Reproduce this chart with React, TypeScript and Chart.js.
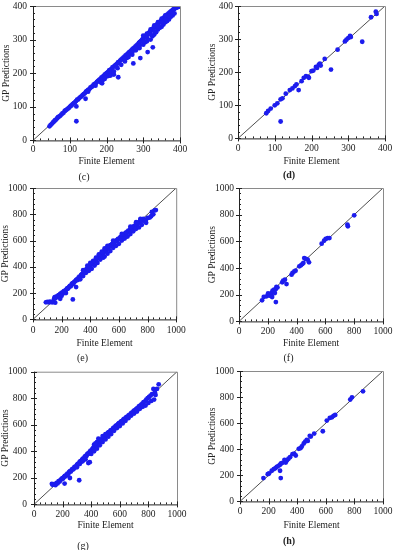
import React, { useEffect, useRef } from "react";
import { Chart, registerables } from "chart.js";
Chart.register(...registerables);

const FONT = "'Liberation Serif', 'Times New Roman', serif";
const FS = 9.5;
const LH = FS * 1.2;

// ---------- data (Finite Element, GP Predictions) ----------
const pointsC: [number, number][] = [
  [45, 42], [48, 46], [52, 50], [55, 54], [58, 57], [60, 60], [63, 62], [66, 66], [68, 69], [71, 71],
  [74, 73], [77, 77], [80, 80], [83, 82], [86, 87], [88, 89], [91, 91], [94, 94], [97, 96], [100, 100],
  [103, 103], [105, 104], [108, 108], [111, 111], [114, 113], [117, 117], [120, 121], [123, 122], [126, 126], [129, 129],
  [132, 131], [135, 135], [138, 138], [141, 140], [144, 145], [147, 147], [150, 150], [153, 152], [156, 157], [159, 159],
  [162, 161], [165, 166], [168, 168], [171, 170], [174, 174], [177, 177], [180, 180], [183, 182], [186, 187], [189, 189],
  [192, 191], [195, 196], [198, 198], [201, 201], [204, 203], [207, 208], [210, 210], [213, 212], [216, 217], [219, 219],
  [222, 222], [225, 225], [228, 227], [231, 232], [234, 234], [237, 237], [240, 240], [243, 243], [246, 246], [249, 249],
  [252, 253], [255, 255], [258, 258], [261, 262], [264, 264], [267, 267], [270, 271], [273, 274], [276, 276], [279, 280],
  [282, 283], [285, 286], [288, 290], [291, 293], [294, 296], [297, 300], [300, 304], [303, 307], [306, 310], [309, 313],
  [312, 316], [315, 320], [318, 323], [321, 327], [324, 330], [327, 333], [330, 337], [333, 340], [336, 343], [339, 347],
  [342, 350], [345, 353], [348, 356], [351, 360], [354, 363], [357, 366], [360, 370], [363, 372], [366, 375], [369, 378],
  [372, 381], [375, 384], [378, 386], [381, 389], [384, 391], [387, 393], [390, 395], [393, 396], [396, 398], [398, 399],
  [300, 312], [310, 318], [320, 330], [330, 342], [340, 352], [350, 362], [360, 372],
  [150, 145], [170, 163], [185, 172], [190, 180], [195, 183], [200, 190], [205, 192], [210, 197], [215, 200], [220, 205],
  [230, 215], [240, 225], [250, 235], [255, 245], [260, 248], [270, 255], [280, 268], [290, 275], [300, 285], [305, 292],
  [310, 295], [320, 300], [325, 310], [330, 315], [335, 322], [340, 330], [345, 335], [350, 338], [355, 345], [360, 352],
  [365, 355], [370, 360], [375, 368], [380, 372], [385, 378],
  [250, 242], [260, 255], [270, 262], [280, 275], [290, 283], [300, 295], [310, 305], [320, 315], [330, 325], [340, 340],
  [350, 350], [360, 360], [370, 370],
  [118, 57], [118, 101], [143, 124], [188, 170], [211, 193], [220, 196], [232, 188], [273, 229], [292, 245], [312, 263], [326, 277],
];

const pointsD: [number, number][] = [
  [77, 76], [82, 83], [89, 90], [100, 100], [107, 106], [116, 118], [121, 121], [130, 135], [141, 146], [148, 151],
  [155, 158], [159, 163], [165, 146], [173, 173], [179, 183], [185, 188], [191, 186], [193, 183], [200, 203], [205, 205],
  [212, 216], [215, 213], [220, 223], [223, 226], [225, 220], [236, 240], [253, 208], [271, 268], [291, 293], [295, 298],
  [300, 303], [305, 310], [307, 306], [338, 292], [362, 366], [375, 383], [377, 376], [116, 51],
];

const pointsE: [number, number][] = [
  [90, 130], [100, 133], [110, 130], [118, 135], [125, 132], [135, 130], [142, 138], [148, 160], [152, 170], [158, 163],
  [165, 175], [172, 172], [178, 185], [185, 180], [190, 195], [198, 200], [205, 205], [210, 198], [215, 215], [222, 210],
  [228, 222], [235, 230], [240, 238], [246, 235], [252, 248], [258, 255], [264, 252], [270, 268], [276, 275], [282, 270],
  [288, 285], [294, 290], [300, 298], [306, 305], [312, 300], [318, 318], [324, 325], [330, 320], [336, 338], [342, 345],
  [348, 340], [354, 360], [360, 370], [366, 365], [372, 380], [378, 390], [384, 385], [390, 400], [396, 408], [402, 398],
  [408, 420], [414, 430], [420, 425], [426, 440], [432, 448], [438, 445], [444, 460], [450, 470], [456, 468], [462, 480],
  [468, 492], [474, 488], [480, 500], [486, 512], [492, 505], [498, 520], [504, 530], [510, 525], [516, 540], [522, 548],
  [528, 545], [534, 558], [540, 565], [546, 562], [552, 572], [558, 580], [564, 578], [570, 590], [576, 598], [582, 595],
  [588, 605], [594, 612], [600, 610], [606, 620], [612, 628], [618, 625], [624, 635], [630, 645], [636, 642], [642, 652],
  [648, 660], [654, 658], [660, 668], [666, 676], [672, 674], [678, 685], [684, 692], [690, 690], [696, 700], [702, 708],
  [708, 706], [714, 715], [720, 722], [726, 720], [732, 730], [738, 738], [744, 740], [750, 755], [760, 750], [770, 765],
  [780, 748], [790, 760], [800, 772], [815, 775], [825, 785], [840, 800], [850, 830], [858, 832], [830, 818],
  [330, 305], [350, 330], [370, 355], [390, 370], [410, 385], [430, 410], [450, 430], [470, 455], [490, 470], [500, 478],
  [520, 500], [540, 520], [560, 545], [580, 560], [600, 575], [620, 600], [640, 615], [660, 630], [680, 650], [700, 670],
  [720, 690], [740, 700], [760, 720], [790, 735],
  [350, 375], [380, 410], [400, 430], [420, 445], [440, 470], [460, 495], [480, 515], [500, 540], [520, 560], [560, 600],
  [620, 650], [680, 705], [720, 740], [750, 765],
  [155, 127], [190, 157], [278, 152], [301, 246], [230, 200], [200, 180],
];

const pointsF: [number, number][] = [
  [160, 158], [172, 183], [191, 188], [202, 210], [212, 193], [226, 213], [233, 230], [230, 183], [244, 238], [249, 213],
  [256, 243], [260, 258], [267, 255], [256, 145], [300, 293], [307, 305], [319, 313], [330, 280], [365, 350], [372, 363],
  [384, 375], [393, 380], [419, 413], [430, 420], [440, 430], [447, 438], [453, 475], [465, 468], [477, 463], [486, 443],
  [574, 583], [591, 605], [602, 618], [616, 625], [628, 625], [753, 725], [756, 713], [800, 795],
];

const pointsG: [number, number][] = [
  [125, 155], [130, 148], [140, 152], [150, 145], [158, 162], [165, 158], [172, 175], [180, 172], [186, 185], [192, 190],
  [198, 198], [204, 195], [210, 208], [216, 215], [222, 212], [228, 225], [234, 232], [240, 230], [246, 245], [252, 250],
  [258, 248], [264, 262], [270, 268], [276, 265], [282, 280], [288, 285], [294, 283], [300, 298], [306, 305], [312, 302],
  [318, 318], [324, 325], [330, 322], [336, 338], [342, 345], [348, 342], [354, 358], [360, 365], [366, 362], [372, 378],
  [378, 385], [384, 382], [390, 398], [396, 405], [402, 402], [408, 418], [414, 425], [420, 422], [426, 438], [432, 445],
  [438, 442], [444, 458], [450, 465], [456, 462], [462, 478], [468, 485], [474, 482], [480, 498], [486, 505], [492, 502],
  [498, 518], [504, 525], [510, 522], [516, 538], [522, 545], [528, 542], [534, 555], [540, 560], [546, 558], [552, 572],
  [558, 578], [564, 576], [570, 590], [576, 596], [582, 594], [588, 606], [594, 612], [600, 610], [606, 622], [612, 628],
  [618, 626], [624, 638], [630, 644], [636, 642], [642, 654], [648, 660], [654, 658], [660, 668], [666, 674], [672, 672],
  [678, 686], [684, 692], [690, 690], [696, 702], [702, 708], [708, 706], [714, 718], [720, 724], [726, 722], [732, 736],
  [738, 742], [744, 740], [750, 752], [758, 760], [766, 770], [775, 775], [785, 790], [795, 800], [805, 810], [815, 820],
  [825, 830], [835, 870], [845, 845], [872, 905], [860, 870],
  [300, 280], [320, 305], [340, 325], [360, 340], [380, 312], [390, 318], [400, 380], [420, 400], [440, 420], [460, 445],
  [480, 470], [500, 490], [520, 510], [540, 530], [560, 555], [580, 575], [600, 590], [620, 610], [640, 630], [660, 650],
  [680, 670], [700, 685], [720, 700], [740, 720], [760, 735], [780, 745], [800, 765], [820, 780], [840, 790], [850, 825],
  [420, 450], [440, 470], [460, 490], [480, 515], [500, 530], [450, 495], [430, 460],
  [214, 157], [316, 182], [251, 199],
];

const pointsH: [number, number][] = [
  [164, 179], [194, 209], [203, 214], [222, 235], [236, 247], [248, 255], [257, 265], [269, 273], [280, 281], [287, 291],
  [280, 235], [285, 179], [297, 296], [311, 319], [320, 298], [329, 316], [339, 327], [350, 339], [367, 362], [379, 367],
  [390, 352], [411, 403], [423, 408], [432, 421], [446, 444], [456, 459], [467, 472], [474, 464], [488, 503], [495, 497],
  [519, 520], [579, 538], [607, 620], [628, 640], [643, 645], [654, 656], [666, 663], [771, 781], [783, 798], [860, 844],
];

const axisMax = [400, 400, 1000, 1000, 1000, 1000];
const majorStep = [100, 100, 200, 200, 200, 200];
const minorStep = [20, 20, 40, 40, 40, 40];
const captions = ["(c)", "(d)", "(e)", "(f)", "(g)", "(h)"];
const captionBold = [false, true, false, false, false, true];
const allPoints = [pointsC, pointsD, pointsE, pointsF, pointsG, pointsH];
const xTitle = "Finite Element";
const yTitle = "GP Predictions";

// ---------- layout (page pixels) ----------
type Lay = { l: number; t: number; r: number; b: number; labelRight: number; yTitleX: number; xLabelY: number; xTitleY: number; capY: number };
const layouts: Lay[] = [
  { l: 33, t: 6, r: 180, b: 141, labelRight: 27, yTitleX: 6, xLabelY: 150, xTitleY: 162, capY: 178 },
  { l: 238, t: 6, r: 385, b: 139, labelRight: 233, yTitleX: 212, xLabelY: 149, xTitleY: 162, capY: 176 },
  { l: 33, t: 188, r: 177, b: 320, labelRight: 27, yTitleX: 5, xLabelY: 331, xTitleY: 344, capY: 359 },
  { l: 239, t: 188, r: 383, b: 322, labelRight: 234, yTitleX: 212, xLabelY: 332, xTitleY: 344, capY: 359 },
  { l: 34, t: 371, r: 177, b: 505, labelRight: 27, yTitleX: 5, xLabelY: 515, xTitleY: 526, capY: 547 },
  { l: 240, t: 371, r: 383, b: 502, labelRight: 234, yTitleX: 212, xLabelY: 512, xTitleY: 526, capY: 542 },
];

const ML = 45, MT = 12, MR = 14;
const TITLE_PB = 8 - LH / 2;

function geom(L: Lay) {
  const x0 = L.l - ML;
  const y0 = L.t - MT;
  const W = L.r - L.l + ML + MR;
  const H = L.capY + 8 - y0;
  return { x0, y0, W, H };
}

const framePlugin = {
  id: "frameTicks",
  afterDraw(chart: any, _a: any, opts: any) {
    const { ctx, chartArea: ca, scales } = chart;
    const xs = scales.x, ys = scales.y;
    ctx.save();
    ctx.lineWidth = 1;
    ctx.strokeStyle = "#8a8a8a";
    ctx.beginPath();
    ctx.moveTo(ca.left, ca.top + 0.5);
    ctx.lineTo(ca.right + 0.5, ca.top + 0.5);
    ctx.lineTo(ca.right + 0.5, ca.bottom);
    ctx.stroke();
    ctx.strokeStyle = "#222";
    ctx.beginPath();
    ctx.moveTo(ca.left + 0.5, ca.top);
    ctx.lineTo(ca.left + 0.5, ca.bottom + 0.5);
    ctx.lineTo(ca.right + 0.5, ca.bottom + 0.5);
    ctx.stroke();
    const max = opts.max, maj = opts.major, mn = opts.minor;
    ctx.beginPath();
    for (let v = 0; v <= max + 1e-6; v += mn) {
      const isMaj = Math.abs(v / maj - Math.round(v / maj)) < 1e-6;
      const px = Math.round(xs.getPixelForValue(v)) + 0.5;
      const py = Math.round(ys.getPixelForValue(v)) + 0.5;
      const inL = isMaj ? 3 : 2;
      const outL = isMaj ? 3 : 0;
      ctx.moveTo(px, ca.bottom - inL);
      ctx.lineTo(px, ca.bottom + outL);
      ctx.moveTo(ca.left - outL, py);
      ctx.lineTo(ca.left + inL, py);
    }
    ctx.stroke();
    ctx.restore();
  },
};

function Panel({ idx }: { idx: number }) {
  const ref = useRef<HTMLCanvasElement>(null);
  const L = layouts[idx];
  const g = geom(L);
  useEffect(() => {
    const max = axisMax[idx];
    const pts = allPoints[idx].map(([x, y]) => ({ x, y }));
    const xScaleH = g.H - LH - TITLE_PB - (L.b - g.y0);
    const xTickPad = L.xLabelY - L.b - LH / 2;
    const xTitlePB = L.capY - L.xTitleY - 2 * (LH / 2) - (8 - LH / 2 - TITLE_PB);
    const yTitlePT = L.yTitleX - g.x0 - LH / 2;
    const font = { family: FONT, size: FS };
    const fmt = (v: any) => String(v);
    const chart = new Chart(ref.current as HTMLCanvasElement, {
      type: "scatter",
      data: {
        datasets: [
          {
            data: pts,
            pointRadius: 2.4,
            pointBorderWidth: 0,
            pointBackgroundColor: "rgb(28,28,238)",
            pointBorderColor: "rgb(28,28,238)",
          },
          {
            type: "line",
            data: [{ x: 0, y: 0 }, { x: max, y: max }],
            borderColor: "#3a3a3a",
            borderWidth: 0.9,
            pointRadius: 0,
            fill: false,
          } as any,
        ],
      },
      options: {
        animation: false,
        responsive: false,
        devicePixelRatio: 1,
        layout: { padding: { left: 0, top: MT, right: MR, bottom: 0 } },
        plugins: {
          legend: { display: false },
          tooltip: { enabled: false },
          title: {
            display: true,
            text: captions[idx],
            position: "bottom",
            color: "#222",
            font: { family: FONT, size: FS + 0.5, weight: captionBold[idx] ? "bold" : "normal" },
            padding: { top: 0, bottom: TITLE_PB },
          },
          frameTicks: { max, major: majorStep[idx], minor: minorStep[idx] },
        } as any,
        scales: {
          x: {
            type: "linear",
            min: 0,
            max,
            grid: { display: false, drawTicks: false },
            border: { display: false },
            ticks: { stepSize: majorStep[idx], padding: xTickPad, color: "#222", font, maxRotation: 0, autoSkip: false, callback: fmt },
            title: { display: true, text: xTitle, color: "#222", font, padding: { top: 0, bottom: xTitlePB } },
            afterFit: (s: any) => { s.height = xScaleH; },
          },
          y: {
            type: "linear",
            min: 0,
            max,
            grid: { display: false, drawTicks: false },
            border: { display: false },
            ticks: { stepSize: majorStep[idx], padding: L.l - L.labelRight, color: "#222", font, autoSkip: false, callback: fmt },
            title: { display: true, text: yTitle, color: "#222", font, padding: { top: yTitlePT, bottom: 0 } },
            afterFit: (s: any) => { s.width = ML; },
          },
        },
      },
      plugins: [framePlugin],
    });
    return () => chart.destroy();
  }, []);
  return (
    <canvas
      ref={ref}
      width={g.W}
      height={g.H}
      style={{ position: "absolute", left: g.x0, top: g.y0, width: g.W, height: g.H }}
    />
  );
}

export default function App() {
  return (
    <div style={{ position: "fixed", left: 0, top: 0, width: 394, height: 550, background: "#fff", overflow: "hidden" }}>
      {layouts.map((_, i) => (
        <Panel key={i} idx={i} />
      ))}
    </div>
  );
}
